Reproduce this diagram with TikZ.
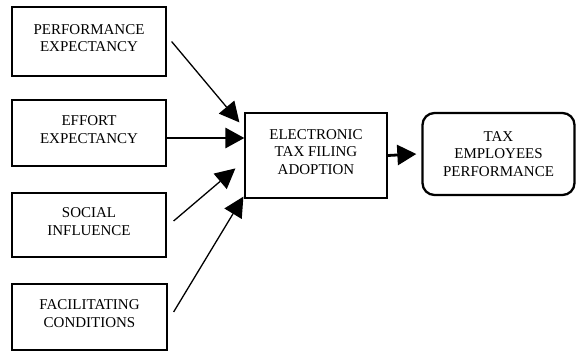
\documentclass[tikz,border=0pt]{standalone}
\usepackage{fontspec}
\setmainfont{Liberation Serif}
\usetikzlibrary{arrows.meta}
\begin{document}
\begin{tikzpicture}[x=1pt,y=-1pt,
  box/.style={draw, line width=1.2pt, align=center, inner sep=0pt, font=\fontsize{15}{17.5}\selectfont, text depth=7pt},
  endbox/.style={draw, line width=2.3pt, rounded corners=12pt, align=center, inner sep=0pt, font=\fontsize{15}{17.5}\selectfont},
  thin arr/.style={line width=1.3pt, -{Triangle[length=20pt,width=20pt]}},
  thick arr/.style={line width=2.8pt, -{Triangle[length=19pt,width=20pt]}}]
\useasboundingbox (0,0) rectangle (576,351);
\node[box, minimum width=154, minimum height=69] (pe) at (89,41.5) {PERFORMANCE\\EXPECTANCY};
\node[box, minimum width=154, minimum height=66] (ee) at (89,133) {EFFORT\\EXPECTANCY};
\node[box, minimum width=154, minimum height=64] (si) at (89,225) {SOCIAL\\INFLUENCE};
\node[box, minimum width=155, minimum height=66] (fc) at (89.5,317) {FACILITATING\\CONDITIONS};
\node[box, minimum width=142, minimum height=85] (ca) at (316,155.5) {ELECTRONIC\\TAX FILING\\ADOPTION};
\node[endbox, minimum width=152, minimum height=82] (tp) at (498.5,154) {TAX\\EMPLOYEES\\PERFORMANCE};
\draw[thin arr] ([xshift=5]pe.east) -- ([shift={(-5,10)}]ca.north west);
\draw[thick arr] ([shift={(0,5)}]ee.east) -- ([shift={(0,-17.5)}]ca.west);
\draw[thin arr] ([shift={(7,-4)}]si.east) -- ([shift={(-9,56)}]ca.north west);
\draw[thin arr] ([shift={(6,-5)}]fc.east) -- ([shift={(-1,-2)}]ca.south west);
\draw[thick arr] (ca.east) -- ([xshift=-5]tp.west);
\end{tikzpicture}
\end{document}
